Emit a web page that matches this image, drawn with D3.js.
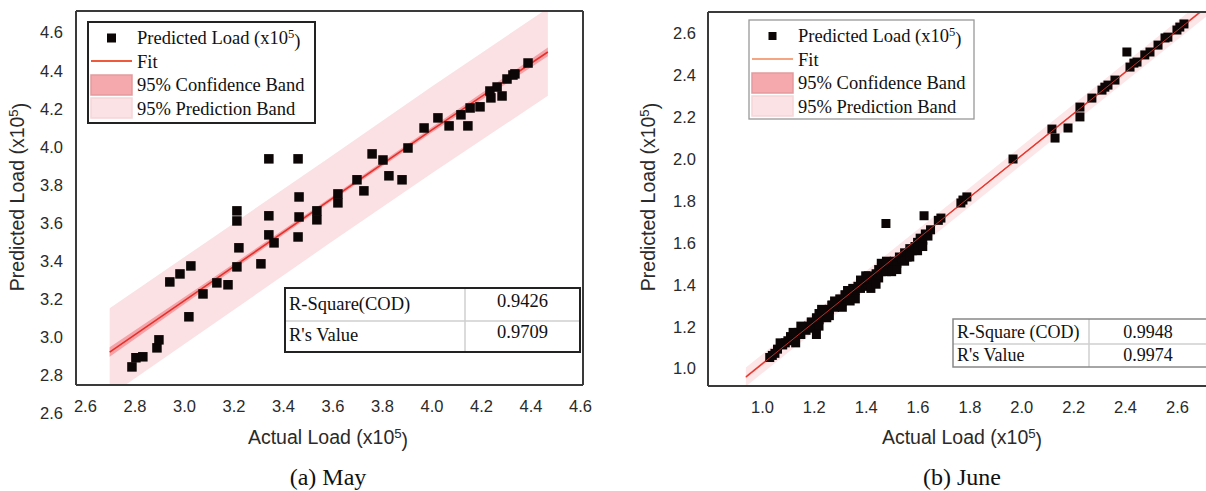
<!DOCTYPE html>
<html><head><meta charset="utf-8">
<script src="https://cdn.jsdelivr.net/npm/d3@7"></script>
<style>
html,body{margin:0;padding:0;background:#fff;}
svg{display:block;}
</style>
</head><body>
<svg id="c" width="1206" height="491"></svg>
<script>
// ---------- DATA ----------
const mayTicks = [2.6, 2.8, 3.0, 3.2, 3.4, 3.6, 3.8, 4.0, 4.2, 4.4, 4.6];
const juneTicks = [1.0, 1.2, 1.4, 1.6, 1.8, 2.0, 2.2, 2.4, 2.6];

const mayActual = [2.790,2.806,2.834,2.891,2.899,2.943,2.984,3.028,3.020,3.077,3.133,3.178,3.214,3.222,3.214,3.214,3.311,3.343,3.343,3.343,3.364,3.461,3.465,3.465,3.461,3.537,3.537,3.622,3.622,3.699,3.727,3.760,3.804,3.828,3.881,3.905,3.970,4.026,4.071,4.119,4.147,4.156,4.196,4.240,4.236,4.285,4.265,4.305,4.329,4.337,4.390];
const mayPredicted = [2.842,2.890,2.895,2.942,2.984,3.288,3.330,3.372,3.105,3.225,3.283,3.273,3.367,3.467,3.661,3.608,3.383,3.934,3.635,3.535,3.493,3.934,3.734,3.629,3.524,3.661,3.614,3.750,3.703,3.824,3.766,3.960,3.928,3.845,3.824,3.991,4.096,4.149,4.107,4.165,4.107,4.201,4.207,4.254,4.290,4.264,4.311,4.353,4.374,4.380,4.437];

const mayBandX   = [2.70, 3.10, 3.585, 4.00, 4.47];
const mayFit     = [2.920, 3.278, 3.713, 4.085, 4.495];
const mayConfLo  = [2.895, 3.262, 3.702, 4.071, 4.472];
const mayConfHi  = [2.945, 3.294, 3.724, 4.099, 4.518];
const mayPredLo  = [2.690, 3.050, 3.488, 3.857, 4.265];
const mayPredHi  = [3.150, 3.506, 3.938, 4.313, 4.725];

const juneActual = [1.03,1.04,1.05,1.06,1.08,1.09,1.10,1.11,1.12,1.13,1.14,1.15,1.16,1.17,1.18,1.19,1.20,1.21,1.22,1.22,1.23,1.24,1.25,1.26,1.26,1.27,1.28,1.29,1.30,1.30,1.31,1.32,1.33,1.34,1.35,1.35,1.36,1.37,1.38,1.39,1.40,1.41,1.42,1.43,1.44,1.45,1.45,1.46,1.47,1.48,1.49,1.50,1.51,1.52,1.53,1.54,1.55,1.56,1.57,1.58,1.59,1.60,1.61,1.62,1.63,1.64,1.65,
  1.07,1.12,1.15,1.19,1.23,1.25,1.28,1.31,1.33,1.36,1.38,1.40,1.42,1.44,1.46,1.48,1.50,1.52,1.55,1.57,1.60,1.62,1.13,1.22,1.27,1.34,1.41,
  1.21,1.478,1.625,1.690,1.680,1.767,1.775,1.790,1.968,2.118,2.130,2.180,2.226,2.226,2.272,2.311,2.322,2.334,2.361,2.407,2.419,2.434,2.446,2.476,2.496,2.527,2.554,2.565,2.600,2.611,2.627];
const junePredicted = [1.05,1.06,1.07,1.09,1.11,1.12,1.13,1.15,1.14,1.16,1.17,1.16,1.19,1.18,1.20,1.22,1.21,1.24,1.23,1.26,1.25,1.27,1.27,1.28,1.25,1.30,1.29,1.31,1.30,1.33,1.32,1.35,1.33,1.36,1.35,1.38,1.37,1.39,1.38,1.41,1.39,1.40,1.43,1.41,1.45,1.43,1.47,1.46,1.48,1.46,1.50,1.49,1.51,1.50,1.53,1.52,1.55,1.53,1.57,1.56,1.58,1.60,1.62,1.61,1.64,1.63,1.66,
  1.12,1.17,1.20,1.19,1.28,1.24,1.32,1.29,1.37,1.33,1.42,1.44,1.38,1.40,1.50,1.51,1.46,1.47,1.51,1.53,1.56,1.58,1.12,1.20,1.30,1.32,1.44,
  1.16,1.690,1.727,1.716,1.705,1.788,1.802,1.817,1.998,2.141,2.098,2.146,2.199,2.246,2.289,2.327,2.341,2.351,2.375,2.509,2.437,2.456,2.461,2.495,2.509,2.542,2.576,2.580,2.614,2.628,2.643];

const juneBandX  = [0.938, 1.80, 2.72];
const juneFit    = [0.957, 1.815, 2.730];
const juneConfLo = [0.950, 1.811, 2.723];
const juneConfHi = [0.964, 1.819, 2.737];
const junePredLo = [0.912, 1.770, 2.685];
const junePredHi = [1.002, 1.860, 2.775];

const legendLabels = ["Predicted Load (x10", "Fit", "95% Confidence Band", "95% Prediction Band"];
const statLabelsMay = ["R-Square(COD)", "R's Value"];
const statValuesMay = ["0.9426", "0.9709"];
const statLabelsJune = ["R-Square (COD)", "R's Value"];
const statValuesJune = ["0.9948", "0.9974"];

// ---------- DRAW ----------
const svg = d3.select("#c");
const SANS = "'Liberation Sans', Arial, sans-serif";
const SERIF = "'Liberation Serif', 'Times New Roman', serif";

function supText(sel, before, sup, after) {
  sel.append("tspan").text(before);
  sel.append("tspan").attr("dy", "-0.45em").attr("font-size", "0.68em").text(sup);
  sel.append("tspan").attr("dy", "0.45em").text(after);
}

function panel(cfg) {
  const x = d3.scaleLinear().domain(cfg.xDom).range(cfg.xRange);
  const y = d3.scaleLinear().domain(cfg.yDom).range(cfg.yRange);
  const g = svg.append("g");
  const clipId = "clip" + cfg.id;
  svg.append("clipPath").attr("id", clipId).append("rect")
    .attr("x", cfg.xRange[0]).attr("y", cfg.yRange[1])
    .attr("width", cfg.xRange[1] - cfg.xRange[0]).attr("height", cfg.yRange[0] - cfg.yRange[1]);
  const pg = g.append("g").attr("clip-path", `url(#${clipId})`);

  const idx = d3.range(cfg.bandX.length);
  const area = (lo, hi) => d3.area().x(i => x(cfg.bandX[i])).y0(i => y(lo[i])).y1(i => y(hi[i]));
  pg.append("path").attr("d", area(cfg.predLo, cfg.predHi)(idx)).attr("fill", cfg.predColor);
  pg.append("path").attr("d", area(cfg.confLo, cfg.confHi)(idx)).attr("fill", cfg.confColor);
  pg.append("path").attr("d", d3.line().x(i => x(cfg.bandX[i])).y(i => y(cfg.fit[i]))(idx))
    .attr("fill", "none").attr("stroke", cfg.fitColor).attr("stroke-width", cfg.fitWidth);

  const s = cfg.marker;
  pg.selectAll("rect.pt").data(cfg.xs.map((v, i) => [v, cfg.ys[i]])).enter().append("rect")
    .attr("class", "pt")
    .attr("x", d => x(d[0]) - s / 2).attr("y", d => y(d[1]) - s / 2)
    .attr("width", s).attr("height", s).attr("fill", "#0d0606");
  if (cfg.lineOnTop) {
    pg.append("path").attr("d", d3.line().x(i => x(cfg.bandX[i])).y(i => y(cfg.fit[i]))(idx))
      .attr("fill", "none").attr("stroke", cfg.fitColor).attr("stroke-width", 1).attr("opacity", 0.8);
  }

  // axes (labels only)
  const ax = g.append("g").attr("transform", `translate(0,${cfg.yRange[0]})`)
    .call(d3.axisBottom(x).tickValues(cfg.xTicks).tickFormat(d3.format(".1f")).tickSize(0).tickPadding(0));
  ax.select(".domain").remove();
  ax.selectAll("text").attr("dy", null).attr("y", 27).attr("font-size", 16.5)
    .attr("font-family", SANS).attr("fill", "#2a2a2a");
  const ay = g.append("g").attr("transform", `translate(${cfg.xRange[0]},0)`)
    .call(d3.axisLeft(y).tickValues(cfg.yTicks).tickFormat(d3.format(".1f")).tickSize(0).tickPadding(0));
  ay.select(".domain").remove();
  ay.selectAll("text").attr("x", -cfg.yPad).attr("dy", "0.36em").attr("font-size", 16.5)
    .attr("font-family", SANS).attr("fill", "#2a2a2a");

  // frame
  const [x0, x1] = cfg.xRange, [yb, yt] = cfg.yRange;
  const fr = g.append("g").attr("stroke", "#3a3a3a").attr("stroke-width", 2).attr("fill", "none");
  fr.append("line").attr("x1", x0).attr("x2", x0).attr("y1", yt).attr("y2", yb);
  fr.append("line").attr("x1", x0).attr("x2", x1).attr("y1", yb).attr("y2", yb);
  fr.append("line").attr("x1", x0).attr("x2", x1).attr("y1", yt).attr("y2", yt);
  if (cfg.rightBorder) fr.append("line").attr("x1", x1).attr("x2", x1).attr("y1", yt).attr("y2", yb);

  // axis titles
  const xt = g.append("text").attr("x", cfg.xTitleX).attr("y", 444).attr("text-anchor", "middle")
    .attr("font-family", SANS).attr("font-size", 19.5).attr("fill", "#2a2a2a");
  supText(xt, "Actual Load (x10", "5", ")");
  const yt2 = g.append("text").attr("transform", `translate(${cfg.yTitleX},197) rotate(-90)`)
    .attr("text-anchor", "middle").attr("font-family", SANS).attr("font-size", 19.5).attr("fill", "#2a2a2a");
  supText(yt2, "Predicted Load (x10", "5", ")");

  // caption
  g.append("text").attr("x", cfg.xTitleX).attr("y", 485).attr("text-anchor", "middle")
    .attr("font-family", SERIF).attr("font-size", 24).attr("fill", "#111").text(cfg.caption);

  // legend
  const L = cfg.legend;
  g.append("rect").attr("x", L.x).attr("y", L.y).attr("width", L.w).attr("height", L.h)
    .attr("fill", "#fff").attr("stroke", L.stroke).attr("stroke-width", L.sw);
  const sx = L.x + 3, sw = 41;
  g.append("rect").attr("x", sx + sw / 2 - L.ms / 2).attr("y", L.y + 16 - L.ms / 2)
    .attr("width", L.ms).attr("height", L.ms).attr("fill", "#0d0606");
  g.append("line").attr("x1", sx).attr("x2", sx + sw).attr("y1", L.y + 39).attr("y2", L.y + 39)
    .attr("stroke", L.fitColor).attr("stroke-width", 2);
  g.append("rect").attr("x", sx).attr("y", L.y + 53).attr("width", sw).attr("height", 20)
    .attr("fill", "#f5a9ad").attr("stroke", "#e39a9e").attr("stroke-width", 1.5);
  g.append("rect").attr("x", sx).attr("y", L.y + 76).attr("width", sw).attr("height", 20)
    .attr("fill", "#fbe2e4").attr("stroke", "#f6d6d9").attr("stroke-width", 1.5);
  const tx = sx + sw + 5;
  legendLabels.forEach((lab, i) => {
    const t = g.append("text").attr("x", tx).attr("y", L.y + 22 + i * 23.5)
      .attr("font-family", SERIF).attr("font-size", 18.5).attr("fill", "#111");
    if (i === 0) supText(t, lab, "5", ")"); else t.text(lab);
  });

  // stats table
  const T = cfg.table;
  const tg = g.append("g");
  tg.append("rect").attr("x", T.x).attr("y", T.y).attr("width", T.w).attr("height", T.h)
    .attr("fill", "#fff");
  tg.append("line").attr("x1", T.x).attr("x2", T.x + T.w).attr("y1", T.rowY).attr("y2", T.rowY)
    .attr("stroke", "#cfcfcf").attr("stroke-width", 1.5);
  tg.append("line").attr("x1", T.colX).attr("x2", T.colX).attr("y1", T.y).attr("y2", T.y + T.h)
    .attr("stroke", "#cfcfcf").attr("stroke-width", 1.5);
  tg.append("rect").attr("x", T.x).attr("y", T.y).attr("width", T.w).attr("height", T.h)
    .attr("fill", "none").attr("stroke", T.stroke).attr("stroke-width", T.sw);
  T.labels.forEach((lab, i) => {
    tg.append("text").attr("x", T.x + 4).attr("y", T.base[i]).attr("font-family", SERIF)
      .attr("font-size", T.fs).attr("fill", "#111").text(lab);
    tg.append("text").attr("x", (T.colX + T.x + T.w) / 2).attr("y", T.vbase[i]).attr("text-anchor", "middle")
      .attr("font-family", SERIF).attr("font-size", T.fs).attr("fill", "#111").text(T.values[i]);
  });
}

panel({
  id: "may", xDom: [2.564, 4.612], xRange: [76, 583], yDom: [2.747, 4.71], yRange: [385, 11],
  xTicks: mayTicks, yTicks: mayTicks, yPad: 13, rightBorder: true, lineOnTop: false,
  xs: mayActual, ys: mayPredicted, marker: 9.5,
  bandX: mayBandX, fit: mayFit, confLo: mayConfLo, confHi: mayConfHi, predLo: mayPredLo, predHi: mayPredHi,
  predColor: "#fbe1e3", confColor: "#f4a3a8", fitColor: "#e8302a", fitWidth: 1.6,
  xTitleX: 328, yTitleX: 24, caption: "(a) May",
  legend: { x: 88, y: 22, w: 227, h: 101, stroke: "#222", sw: 2, ms: 9, fitColor: "#ef5a3c" },
  table: { x: 285, y: 288, w: 295, h: 64, rowY: 321, colX: 465, stroke: "#222", sw: 2, fs: 18.5,
           labels: statLabelsMay, values: statValuesMay, base: [310, 341], vbase: [307, 338] }
});

panel({
  id: "june", xDom: [0.792, 2.712], xRange: [708, 1206], yDom: [0.914, 2.70], yRange: [386, 12],
  xTicks: juneTicks, yTicks: juneTicks, yPad: 12, rightBorder: false, lineOnTop: true,
  xs: juneActual, ys: junePredicted, marker: 9,
  bandX: juneBandX, fit: juneFit, confLo: juneConfLo, confHi: juneConfHi, predLo: junePredLo, predHi: junePredHi,
  predColor: "#fde6e8", confColor: "#f6b4b8", fitColor: "#e8392e", fitWidth: 1.3,
  xTitleX: 962, yTitleX: 655, caption: "(b) June",
  legend: { x: 749, y: 20, w: 225, h: 99, stroke: "#999", sw: 1.3, ms: 8, fitColor: "#f4a582" },
  table: { x: 953, y: 319, w: 254, h: 48, rowY: 344, colX: 1089, stroke: "#888", sw: 1.5, fs: 18,
           labels: statLabelsJune, values: statValuesJune, base: [338, 361], vbase: [338, 361] }
});
</script>
</body></html>
